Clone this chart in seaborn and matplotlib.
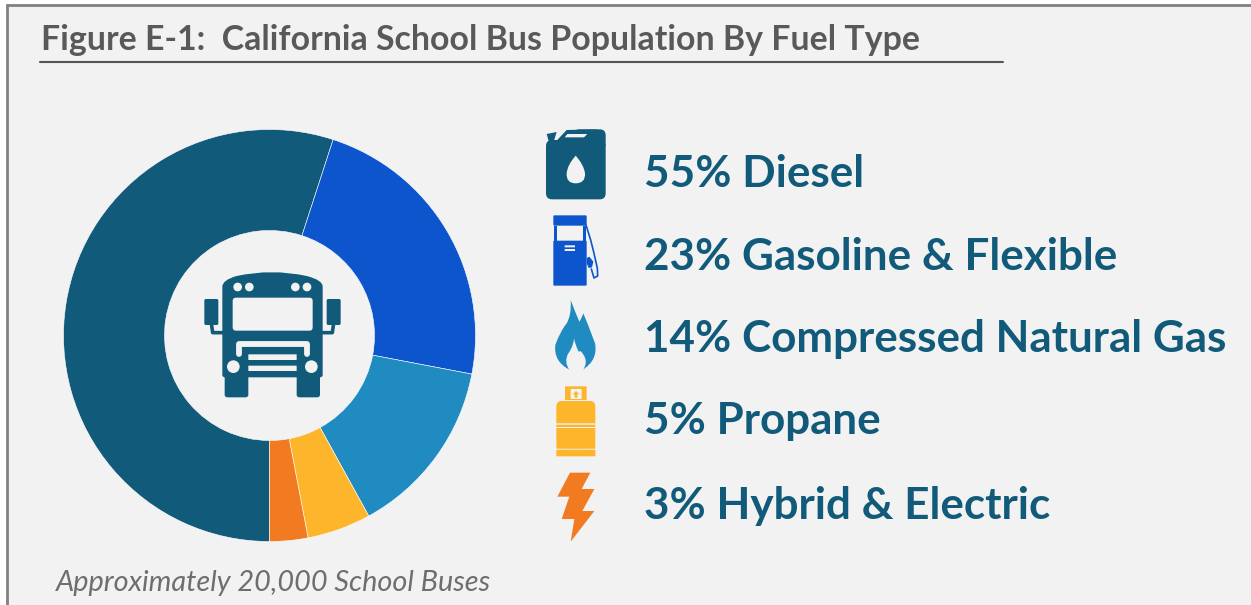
import matplotlib
matplotlib.use("Agg")
import matplotlib.pyplot as plt
from matplotlib.patches import Circle, FancyBboxPatch, PathPatch, Polygon, Rectangle
from matplotlib.path import Path
import seaborn as sns

fuels = ["Diesel", "Gasoline & Flexible", "Compressed Natural Gas", "Propane", "Hybrid & Electric"]
shares = [55, 23, 14, 5, 3]
colors = ["#115a7a", "#0d55cc", "#1f8bc0", "#fdb62c", "#f27b21"]
title = "Figure E-1:  California School Bus Population By Fuel Type"
note = "Approximately 20,000 School Buses"

BG = "#f2f2f2"
W, H = 1251, 605

sns.set_style("white")
plt.rcParams["font.family"] = ["Lato", "DejaVu Sans"]
palette = sns.color_palette(colors)

fig = plt.figure(figsize=(W / 100, H / 100), dpi=100, facecolor="white")

# overlay in pixel coordinates for the frame, text and icons
ov = fig.add_axes([0, 0, 1, 1])
ov.set_xlim(0, W)
ov.set_ylim(H, 0)
ov.axis("off")
ov.add_patch(Rectangle((7, 5), W, H, fc=BG, ec="#808080", lw=2))
ov.plot([40, 1003], [62, 62], color="#555555", lw=1.5)
ov.text(41, 40, title, fontsize=24.4, fontweight="bold", color="#595959", va="center", ha="left")
ov.text(56, 583, note, fontsize=20.8, fontstyle="italic", color="#6e6e6e", va="center", ha="left")

# donut
cx, cy, r = 269.5, 335.5, 206
ax = fig.add_axes([(cx - r) / W, 1 - (cy + r) / H, 2 * r / W, 2 * r / H])
ax.pie(shares, colors=palette, startangle=270, counterclock=False, radius=1,
       wedgeprops=dict(width=1 - 105 / 206, edgecolor="white", linewidth=0.4))
ax.set_xlim(-1, 1)
ax.set_ylim(-1, 1)

# legend text
ys = [174, 257, 339, 421, 506]
for f, s, y in zip(fuels, shares, ys):
    ov.text(644, y, f"{s}% {f}", fontsize=31.7, fontweight="bold", color=colors[0], va="center", ha="left")


def pts(lst, ox, oy):
    return [(ox + x / 3, oy + y / 3) for x, y in lst]


def poly(lst, ox, oy, c):
    ov.add_patch(Polygon(pts(lst, ox, oy), closed=True, fc=c, ec="none", zorder=3))


def rbox(x0, y0, x1, y1, rad, ox, oy, c):
    ov.add_patch(FancyBboxPatch((ox + (x0 + rad) / 3, oy + (y0 + rad) / 3),
                                (x1 - x0 - 2 * rad) / 3, (y1 - y0 - 2 * rad) / 3,
                                boxstyle=f"round,pad={rad / 3},rounding_size={rad / 3}",
                                fc=c, ec="none", zorder=3))


def curve(lst, ox, oy, c):
    # first point then pairs of control/end points
    p = pts(lst, ox, oy)
    codes = [Path.MOVETO] + [Path.CURVE3] * (len(p) - 1)
    ov.add_patch(PathPatch(Path(p, codes), fc=c, ec="none", zorder=3))


def dot(x, y, rad, ox, oy, c):
    ov.add_patch(Circle((ox + x / 3, oy + y / 3), rad / 3, fc=c, ec="none", zorder=3))


# bus
ox, oy = 190, 260
c = colors[0]
curve([(97, 80), (97, 60), (140, 48), (245, 25), (350, 48), (398, 60), (398, 80),
       (398, 200), (398, 345), (398, 352), (390, 352), (245, 352), (105, 352),
       (97, 352), (97, 345), (97, 200), (97, 80)], ox, oy, c)
rbox(104, 340, 175, 412, 8, ox, oy, c)
rbox(320, 340, 390, 412, 8, ox, oy, c)
rbox(43, 117, 85, 195, 5, ox, oy, c)
rbox(410, 117, 452, 195, 5, ox, oy, c)
ov.plot(*zip(*pts([(64, 190), (68, 218), (97, 218)], ox, oy)), color=c, lw=2.6, zorder=3)
ov.plot(*zip(*pts([(431, 190), (427, 218), (398, 218)], ox, oy)), color=c, lw=2.6, zorder=3)
rbox(128, 113, 368, 212, 10, ox, oy, BG)
for lx in [143, 178, 316, 351]:
    dot(lx, 81, 13, ox, oy, BG)
dot(130, 320, 19, ox, oy, BG)
dot(364, 320, 19, ox, oy, BG)
rbox(175, 283, 320, 300, 1, ox, oy, BG)
rbox(175, 317, 320, 333, 1, ox, oy, BG)
ov.plot(*zip(*pts([(147, 281), (147, 252), (350, 252), (350, 281)], ox, oy)), color=BG, lw=4.2, zorder=3,
        solid_joinstyle="round")

# jerry can
ox, oy = 530, 120
poly([(50, 42), (80, 36), (72, 62), (58, 70)], ox, oy, c)
poly([(80, 62), (110, 30), (200, 28), (210, 80), (80, 80)], ox, oy, c)
rbox(48, 60, 227, 238, 18, ox, oy, c)
rbox(130, 28, 227, 90, 18, ox, oy, c)
poly([(112, 42), (172, 42), (162, 52), (104, 52)], ox, oy, BG)
curve([(137, 107), (112, 135), (110, 160), (108, 190), (137, 190), (167, 190), (165, 160),
       (162, 135), (137, 107)], ox, oy, BG)

# fuel pump
c = colors[1]
rbox(70, 286, 170, 317, 3, ox, oy, c)
ov.add_patch(Rectangle((ox + 72 / 3, oy + 317 / 3), 9 / 3, 45 / 3, fc=c, ec="none", zorder=3))
ov.add_patch(Rectangle((ox + 159 / 3, oy + 317 / 3), 9 / 3, 45 / 3, fc=c, ec="none", zorder=3))
rbox(70, 362, 170, 497, 3, ox, oy, c)
rbox(104, 376, 135, 382, 0.5, ox, oy, BG)
rbox(104, 387, 135, 393, 0.5, ox, oy, BG)
ov.plot(*zip(*pts([(168, 315), (182, 360), (192, 400), (202, 445), (203, 468), (192, 474), (184, 447)], ox, oy)),
        color=c, lw=1.2, zorder=3)
poly([(170, 414), (178, 410), (190, 425), (186, 442), (176, 444), (170, 430)], ox, oy, c)

# flame
ox, oy = 530, 295
c = colors[2]
curve([(122, 15), (135, 50), (148, 80), (155, 70), (160, 55), (175, 90), (195, 145), (205, 195),
       (157, 225), (140, 225), (120, 225), (70, 200), (76, 150), (90, 110), (110, 85), (125, 60), (122, 15)],
      ox, oy, c)
curve([(132, 130), (130, 155), (115, 175), (100, 200), (120, 228), (140, 228), (157, 228),
       (180, 198), (152, 168), (148, 172), (145, 168), (136, 150), (132, 130)], ox, oy, BG)

# propane cylinder
c = colors[3]
rbox(105, 274, 170, 315, 2, ox, oy, c)
rbox(122, 282, 155, 312, 2, ox, oy, BG)
poly([(128, 298), (138, 288), (148, 298), (142, 298), (142, 308), (134, 308), (134, 298)], ox, oy, c)
rbox(79, 318, 196, 460, 16, ox, oy, c)
rbox(79, 452, 196, 461, 0.3, ox, oy, c)
rbox(79, 385, 196, 389, 0.3, ox, oy, BG)
rbox(79, 396, 196, 399, 0.3, ox, oy, BG)
rbox(79, 464, 196, 484, 2, ox, oy, c)

# lightning bolt
poly([(120, 533), (181, 533), (155, 582), (193, 582), (157, 648), (193, 648), (122, 740),
      (133, 672), (95, 672), (118, 605), (82, 605)], ox, oy, colors[4])

fig.savefig("out.png", dpi=100, facecolor="white")
